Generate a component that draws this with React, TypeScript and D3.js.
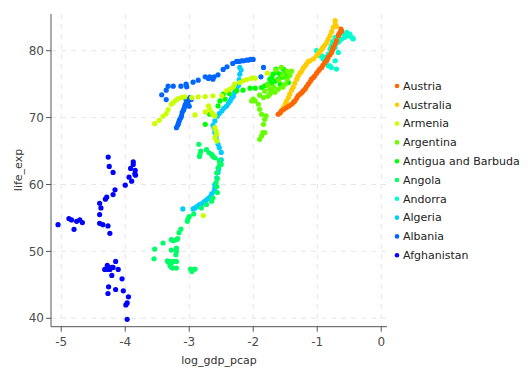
import React from "react";
import * as d3 from "d3";

type Pt = [number, number];

const countries = ["Austria", "Australia", "Armenia", "Argentina", "Antigua and Barbuda", "Angola", "Andorra", "Algeria", "Albania", "Afghanistan"];
const colors = ["#ff6600", "#ffcc00", "#ccff00", "#66ff00", "#00ff00", "#00ff66", "#00ffcc", "#00ccff", "#0066ff", "#0000ff"];
const xTicks = [-5, -4, -3, -2, -1, 0];
const yTicks = [40, 50, 60, 70, 80];

const afghanistan: Pt[] = [
  [-4.266, 64.1], [-4.25, 62.7], [-4.19, 61.8], [-3.875, 63.4], [-3.875, 63.0], [-3.916, 62.4], [-3.844, 62.1], [-3.85, 61.6], [-3.84, 61.4],
  [-3.94, 61.1], [-3.9, 60.5], [-4.0, 59.9], [-4.16, 59.2], [-4.19, 58.5], [-4.29, 58.1], [-4.31, 57.8], [-4.4, 57.2], [-4.38, 56.5],
  [-4.4, 55.5], [-4.4, 54.2], [-4.35, 54.0], [-4.27, 53.8], [-4.24, 52.7], [-5.05, 54.0], [-4.88, 54.9], [-4.84, 54.7], [-4.76, 54.5],
  [-4.71, 54.7], [-4.67, 54.3], [-4.8, 53.3], [-4.15, 48.5], [-4.28, 47.9], [-4.21, 47.6], [-4.19, 47.6], [-4.32, 47.3], [-4.27, 47.3],
  [-4.24, 47.3], [-4.11, 47.3], [-4.21, 46.4], [-4.05, 45.9], [-4.26, 44.7], [-4.15, 44.3], [-4.03, 44.1], [-4.27, 43.7], [-3.95, 43.2],
  [-3.97, 42.3], [-3.99, 42.0], [-3.97, 39.85],
];
const albania: Pt[] = [
  [-3.2, 68.5], [-3.18, 68.85], [-3.17, 69.1], [-3.16, 69.4], [-3.15, 69.7], [-3.13, 70.0], [-3.12, 70.3], [-3.11, 70.8], [-3.09, 71.1],
  [-3.08, 71.4], [-3.07, 71.7], [-3.06, 72.0], [-3.04, 72.25], [-3.03, 72.4], [-3.02, 72.6], [-3.0, 71.7], [-2.99, 73.0], [-2.97, 72.7],
  [-3.05, 72.7], [-3.02, 72.1], [-3.43, 73.4], [-3.36, 72.7], [-3.36, 74.1], [-3.33, 74.7], [-3.25, 74.7], [-3.13, 74.7], [-3.05, 75.0],
  [-3.04, 74.6], [-2.94, 75.3], [-2.86, 75.6], [-2.75, 76.1], [-2.7, 75.85], [-2.68, 76.1], [-2.63, 75.75], [-2.61, 76.1], [-2.55, 76.4],
  [-2.47, 77.2], [-2.41, 77.6], [-2.32, 78.1], [-2.26, 78.4], [-2.22, 78.4], [-2.18, 78.5], [-2.15, 78.5], [-2.1, 78.6], [-2.07, 78.6],
  [-2.04, 78.7], [-2.0, 78.7], [-1.84, 77.5], [-1.88, 76.1],
];
const algeria: Pt[] = [
  [-3.1, 56.35], [-2.94, 56.35], [-2.91, 56.5], [-2.88, 56.7], [-2.84, 57.0], [-2.81, 57.1], [-2.77, 57.4], [-2.74, 57.6], [-2.71, 57.9],
  [-2.67, 58.2], [-2.65, 58.6], [-2.61, 59.0], [-2.6, 59.5], [-2.6, 60.0], [-2.57, 61.0], [-2.55, 61.8], [-2.54, 62.35], [-2.52, 63.0],
  [-2.5, 63.7], [-2.5, 64.8], [-2.53, 65.5], [-2.55, 66.0], [-2.57, 66.6], [-2.58, 67.2], [-2.6, 67.8], [-2.61, 68.4], [-2.63, 68.85],
  [-2.6, 69.5], [-2.56, 70.2], [-2.53, 70.6], [-2.49, 71.0], [-2.46, 71.4], [-2.42, 71.7], [-2.39, 72.1], [-2.36, 72.5], [-2.34, 72.9],
  [-2.31, 73.2], [-2.29, 73.8], [-2.26, 74.35], [-2.23, 74.8], [-2.22, 75.7], [-2.21, 76.5], [-2.19, 77.1], [-2.21, 77.5],
];
const andorra: Pt[] = [
  [-1.01, 80.0], [-0.98, 79.75], [-0.96, 79.25], [-0.93, 79.25], [-0.91, 78.75], [-0.88, 79.0], [-0.85, 78.5], [-0.83, 79.5], [-0.83, 77.75],
  [-0.8, 80.25], [-0.8, 77.75], [-0.78, 77.5], [-0.78, 80.75], [-0.76, 81.35], [-0.72, 78.5], [-0.72, 80.5], [-0.72, 82.0], [-0.7, 77.25],
  [-0.67, 79.75], [-0.67, 81.25], [-0.65, 81.5], [-0.62, 81.75], [-0.62, 83.0], [-0.59, 82.5], [-0.57, 82.35], [-0.57, 82.0], [-0.54, 82.75],
  [-0.52, 82.25], [-0.49, 82.5], [-0.46, 82.0], [-0.44, 81.75], [-0.44, 81.85],
];
const angola: Pt[] = [
  [-2.85, 66.0], [-2.82, 65.0], [-2.83, 64.6], [-2.84, 64.2], [-2.73, 65.2], [-2.69, 64.75], [-2.65, 64.5], [-2.63, 64.2], [-2.6, 64.0],
  [-2.53, 63.6], [-2.52, 63.25], [-2.5, 63.0], [-2.55, 62.5], [-2.57, 61.75], [-2.56, 60.9], [-2.58, 60.3], [-2.57, 59.7], [-2.56, 58.8],
  [-2.63, 58.0], [-2.65, 57.5], [-2.73, 57.0], [-2.81, 56.5], [-2.93, 55.6], [-3.0, 55.2], [-3.02, 54.85], [-3.03, 54.5], [-3.13, 53.35],
  [-3.16, 52.8], [-3.18, 51.9], [-3.2, 51.75], [-3.25, 51.6], [-3.28, 51.75], [-3.41, 51.25], [-3.54, 50.35], [-3.55, 48.9], [-3.28, 50.2],
  [-3.2, 50.5], [-3.2, 50.0], [-3.21, 49.5], [-3.2, 48.5], [-3.34, 48.6], [-3.33, 48.4], [-3.3, 48.5], [-3.28, 48.25], [-3.25, 48.5],
  [-3.3, 47.85], [-3.28, 47.65], [-3.26, 47.5], [-3.2, 47.5], [-2.98, 47.35], [-2.94, 47.25], [-2.91, 47.35], [-2.96, 47.0],
];
const antigua: Pt[] = [
  [-2.75, 69.0], [-2.68, 70.5], [-2.55, 71.75], [-2.52, 72.5], [-2.44, 72.75], [-2.47, 73.5], [-2.375, 73.6], [-2.26, 74.0], [-2.16, 74.1],
  [-2.05, 74.4], [-1.97, 74.4], [-1.87, 74.5], [-1.82, 74.75], [-1.77, 75.0], [-1.71, 76.0], [-1.69, 76.5], [-1.63, 76.75], [-1.58, 76.5],
  [-1.53, 77.25], [-1.5, 76.75], [-1.48, 76.0], [-1.45, 75.25], [-1.58, 75.0], [-1.61, 75.75], [-1.66, 75.45], [-1.74, 75.75], [-1.55, 76.05],
  [-1.43, 76.35], [-1.645, 77.25], [-1.71, 75.15],
];
const argentina: Pt[] = [
  [-2.0, 72.75], [-2.025, 72.5], [-1.97, 72.5], [-1.92, 72.0], [-1.9, 71.25], [-1.87, 70.5], [-1.8, 70.25], [-1.82, 69.75], [-1.84, 69.0],
  [-1.85, 67.75], [-1.87, 67.25], [-1.82, 67.75], [-1.9, 66.75], [-1.84, 73.0], [-1.77, 73.2], [-1.74, 73.5], [-1.71, 73.95], [-1.66, 73.8],
  [-1.61, 74.25], [-1.54, 74.55], [-1.5, 75.0], [-1.47, 75.75], [-1.43, 76.35], [-1.4, 76.95], [-1.475, 76.95], [-1.54, 76.35], [-1.6, 75.6],
  [-1.68, 74.55], [-1.74, 74.25], [-1.82, 73.95], [-1.9, 73.35], [-1.56, 77.5], [-1.645, 77.1], [-1.77, 74.85],
];
const armenia: Pt[] = [
  [-3.54, 69.1], [-3.47, 69.6], [-3.41, 70.2], [-3.36, 70.6], [-3.33, 71.2], [-3.28, 72.0], [-3.25, 72.25], [-3.21, 72.6], [-3.17, 72.85],
  [-3.12, 73.0], [-3.07, 73.1], [-2.96, 73.0], [-2.86, 73.1], [-2.75, 73.15], [-2.63, 73.25], [-2.49, 73.25], [-2.91, 70.4], [-2.75, 70.85],
  [-2.7, 71.75], [-2.68, 71.25], [-2.65, 70.75], [-2.63, 70.5], [-2.6, 70.25], [-2.6, 68.5], [-2.58, 68.0], [-2.57, 67.5], [-2.6, 67.0],
  [-2.57, 66.5], [-2.42, 74.0], [-2.36, 74.25], [-2.31, 74.6], [-2.29, 75.0], [-2.21, 75.25], [-2.16, 75.5], [-2.1, 75.7], [-2.03, 75.9],
  [-1.97, 75.9], [-1.78, 76.65], [-2.78, 55.35],
];
const australia: Pt[] = [
  [-1.53, 71.5], [-1.5, 72.0], [-1.48, 72.45], [-1.45, 73.0], [-1.43, 73.5], [-1.4, 74.1], [-1.375, 74.55], [-1.35, 75.15], [-1.32, 75.75],
  [-1.3, 76.2], [-1.27, 76.65], [-1.24, 77.0], [-1.22, 77.4], [-1.19, 77.7], [-1.17, 78.0], [-1.14, 78.4], [-1.11, 78.5], [-1.06, 78.8],
  [-1.01, 79.25], [-0.98, 79.6], [-0.96, 79.85], [-0.93, 80.2], [-0.91, 80.5], [-0.88, 80.85], [-0.85, 81.25], [-0.83, 81.75], [-0.8, 82.25],
  [-0.775, 82.85], [-0.75, 83.5], [-0.72, 84.0], [-0.7, 83.65], [-0.72, 84.5],
];
const austria: Pt[] = [
  [-1.61, 70.5], [-1.58, 70.7], [-1.56, 71.0], [-1.52, 71.25], [-1.48, 71.5], [-1.44, 71.75], [-1.4, 72.0], [-1.37, 72.3], [-1.35, 72.5],
  [-1.32, 72.9], [-1.3, 73.25], [-1.27, 73.5], [-1.24, 73.75], [-1.22, 74.0], [-1.19, 74.25], [-1.17, 74.6], [-1.14, 75.0], [-1.11, 75.4],
  [-1.09, 75.75], [-1.06, 76.0], [-1.04, 76.25], [-1.01, 76.65], [-0.98, 77.0], [-0.96, 77.25], [-0.93, 77.5], [-0.91, 77.85], [-0.88, 78.25],
  [-0.85, 78.6], [-0.83, 79.0], [-0.8, 79.4], [-0.775, 79.75], [-0.76, 80.15], [-0.75, 80.5], [-0.72, 81.0], [-0.7, 81.5], [-0.67, 82.25],
  [-0.66, 82.5], [-0.645, 82.75], [-0.63, 83.25], [-0.62, 82.95],
];

// drawing order (alphabetical), legend order is reversed
const seriesData: Pt[][] = [austria, australia, armenia, argentina, antigua, angola, andorra, algeria, albania, afghanistan];

const W = 528, H = 384;
const left = 51, right = 387, top = 14, bottom = 326.7;

export default function App() {
  const x = d3.scaleLinear().domain([-5.16, 0.09]).range([left, right]);
  const y = d3.scaleLinear().domain([38.74, 85.49]).range([bottom, top]);
  const font = "'DejaVu Sans', sans-serif";
  const order = d3.range(countries.length).reverse();
  return (
    <svg width={W} height={H} style={{ position: "absolute", left: 0, top: 0, background: "#fff" }} fontFamily={font}>
      {xTicks.map((t) => (
        <line key={"gx" + t} x1={x(t)} x2={x(t)} y1={top} y2={bottom} stroke="#e6e6e6" strokeWidth={1} strokeDasharray="5,5" />
      ))}
      {yTicks.map((t) => (
        <line key={"gy" + t} x1={left} x2={right} y1={y(t)} y2={y(t)} stroke="#e6e6e6" strokeWidth={1} strokeDasharray="5,5" />
      ))}
      {order.map((i) => (
        <g key={countries[i]} fill={colors[i]}>
          {seriesData[i].map((d, j) => (
            <circle key={j} cx={x(d[0])} cy={y(d[1])} r={2.6} />
          ))}
        </g>
      ))}
      <line x1={left} x2={left} y1={top} y2={bottom} stroke="#555" strokeWidth={1} />
      <line x1={left} x2={right} y1={bottom} y2={bottom} stroke="#555" strokeWidth={1} />
      {yTicks.map((t) => (
        <g key={"ty" + t}>
          <line x1={left - 5} x2={left} y1={y(t)} y2={y(t)} stroke="#555" />
          <text x={left - 7} y={y(t)} dy="0.35em" textAnchor="end" fontSize={12} fill="#4d4d4d">{t}</text>
        </g>
      ))}
      {xTicks.map((t) => (
        <g key={"tx" + t}>
          <line x1={x(t)} x2={x(t)} y1={bottom} y2={bottom + 5} stroke="#555" />
          <text x={x(t)} y={bottom + 19} textAnchor="middle" fontSize={12} fill="#4d4d4d">{t}</text>
        </g>
      ))}
      <text x={219} y={364} textAnchor="middle" fontSize={11} fill="#333">log_gdp_pcap</text>
      <text transform={`translate(22,170) rotate(-90)`} textAnchor="middle" fontSize={11} fill="#333">life_exp</text>
      {countries.map((c, i) => (
        <g key={"lg" + c} transform={`translate(397,${86 + i * 18.8})`}>
          <circle r={2.3} fill={colors[i]} />
          <text x={6} dy="0.35em" fontSize={11} fill="#222">{c}</text>
        </g>
      ))}
    </svg>
  );
}
